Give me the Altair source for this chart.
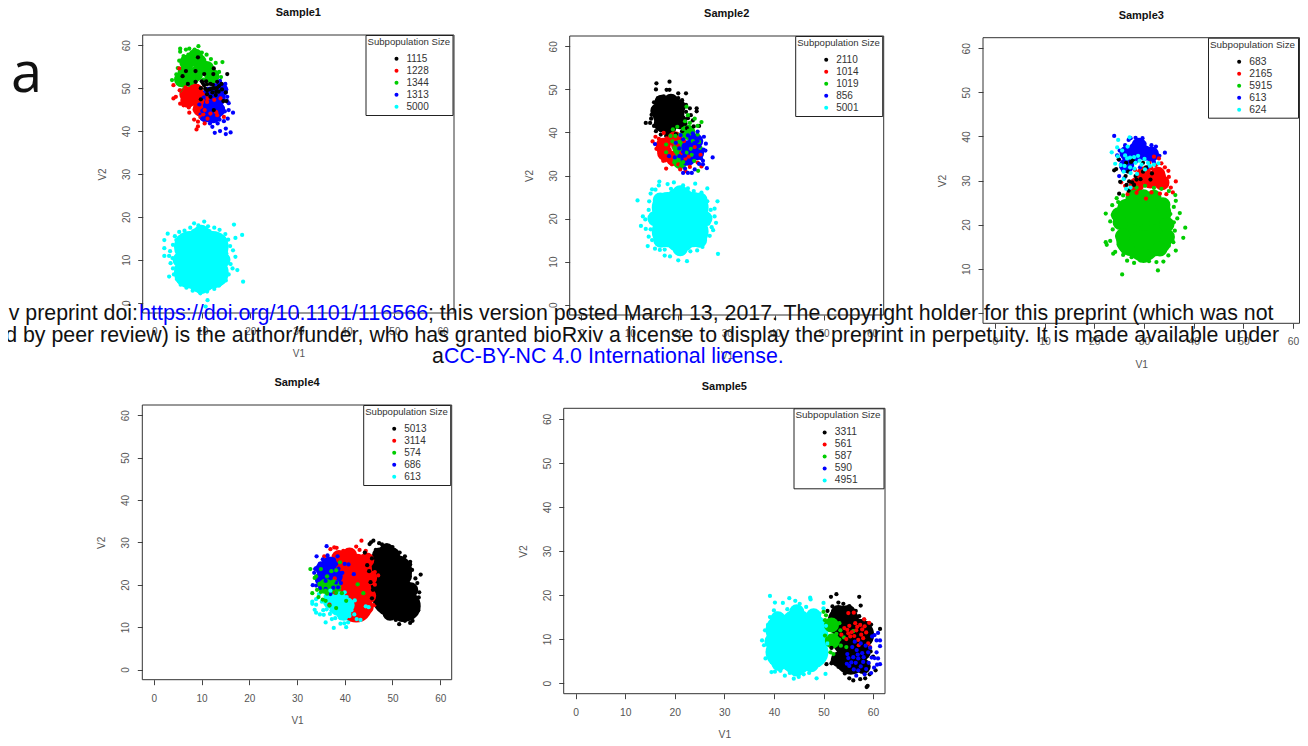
import altair as alt
import pandas as pd

FONT = "Liberation Sans"
COLORS = ["#000000", "#ff0000", "#00cd00", "#0000ff", "#00ffff"]
TICKS = [0, 10, 20, 30, 40, 50, 60]
DOMAIN = [-2.4, 62.4]
DOMAIN_S3_X = [-2.4, 61.29]
PAGE_W, PAGE_H = 1292, 735

# ---------- Sample1 ----------
s1_labels = ["1115", "1228", "1344", "1313", "5000"]
s1_big = [(9.8, 10, "5000"), (7.4, 7, "5000"), (12.2, 7, "5000"), (7.4, 13, "5000"), (12.2, 13, "5000"), (9.8, 14, "5000"), (9.8, 6, "5000")]
s1_small = [(5.4, 10, "5000"), (14.3, 10, "5000"), (5.9, 14.2, "5000"), (13.7, 14.2, "5000"), (6, 5.8, "5000"), (13.6, 5.8, "5000"), (9.8, 16.4, "5000"), (9.8, 3.8, "5000"),
            (6.4, 53.5, "1344"), (8.6, 53.3, "1344"), (10.9, 54.6, "1344"), (6.8, 56, "1344"), (9.3, 56.2, "1344"), (8.6, 57.4, "1344"), (12, 52.8, "1344"), (5.7, 52, "1344"), (7.6, 52, "1344"),
            (6.8, 48.6, "1228"), (8.6, 47.6, "1228"), (7, 47.2, "1228"), (8.6, 49.3, "1228"), (10, 47.2, "1228"), (9.6, 45.2, "1228"),
            (11.7, 46, "1313"), (13.3, 47.6, "1313"), (13.2, 45, "1313"), (12.3, 43.6, "1313"), (13.8, 49.6, "1313"), (11.6, 48.6, "1313"), (10.8, 43.8, "1313")]
s1_green = [(5.4, 59.2), (5.4, 58.5), (6.6, 59), (7.3, 59.2), (9.2, 59.8), (14.2, 56.1), (12.8, 55.9), (3.7, 51.9), (5.4, 49.5), (13.5, 53.8), (8.4, 59), (9.9, 58.3), (10.9, 57.8), (11.8, 56.8), (12.2, 54.6), (13, 53), (4.6, 53.2), (4.9, 54.7), (5.2, 56.4), (6.1, 57.5), (7.1, 57.8), (4.7, 52), (5.9, 51.2), (7.9, 51.3), (10.2, 52), (12.3, 52.1), (13.9, 52.6), (6.3, 50.3)]
s1_red = [(4, 50.7), (4, 47.6), (4.5, 48), (5.2, 54.6), (7.3, 44.3), (8.3, 42.7), (9.1, 42.2), (9.1, 41.1), (8.8, 40.4), (5.4, 46.4), (6.1, 46), (6.5, 50.2), (5.3, 49.5), (9.9, 46.7), (9.6, 44.7), (8.4, 45), (10.2, 43.9), (9.6, 43.3), (7.2, 45.5), (10.5, 48.2), (9.7, 50.1)]
s1_blue = [(12.6, 39.6), (13.7, 40), (14.9, 40.6), (14.9, 39.3), (15.9, 39.7), (16.4, 44.3), (15.5, 44.9), (15.5, 46.5), (15.2, 48), (15, 49.7), (14.8, 51), (13.7, 51.7), (15.3, 42.9), (14.5, 42.3), (13.2, 41.8), (12.1, 41), (11.6, 41.8), (10.9, 43.2), (10, 44.7), (9.4, 46.2), (10.3, 47.9), (11, 49), (12.6, 50.7), (14.7, 44.6), (15.2, 47), (10, 42.9), (13.6, 42.7)]
s1_red2 = [(10.5, 41.8), (11.1, 42.9), (14.5, 43.3), (13.8, 47.6), (11, 46.8), (10.5, 44.9), (11.7, 44.1), (12.5, 47.3), (13.1, 43.7), (10, 48.7), (11.1, 47.6), (12.9, 44.4)]
s1_black = [(12.4, 54.6), (15.2, 53.3), (8.6, 54), (6.6, 54), (10.4, 53.3), (12.3, 53.3), (7, 51), (8.6, 51.5), (10.4, 50.7), (11.7, 51), (13.1, 51.5), (9.7, 50), (11, 49.5), (12.4, 50), (13.5, 50.5), (11.7, 48), (12.8, 48.4), (9.7, 47.4), (14.9, 49), (14.4, 47), (15, 47), (12.4, 44.9), (11, 50.9), (10.1, 51.2), (12.1, 49), (13.4, 49.2), (9.1, 57.2), (5.9, 52.8), (11.5, 49.7), (10.6, 49.9), (12.2, 50.8), (13, 50), (11.9, 49.9), (10.8, 51.6), (14, 51), (14.1, 49.7), (12.9, 49.2), (11, 48.6), (9.9, 51.6)]
s1_cyan = [(2.1, 14.6), (2.8, 16.1), (2.1, 12.7), (2.1, 10.9), (3.1, 10.9), (16.6, 18.2), (18.3, 15.8), (16.9, 15.1), (16.9, 10.7), (17.3, 7.6), (18.5, 4.9), (3.1, 6.1), (10.4, 18.9), (8.3, 18.5), (11.1, 0.6), (10.7, -0.9), (4.3, 15.5), (5.2, 16.5), (6.3, 16.8), (7.5, 17.5), (9.2, 18), (11.2, 17.8), (12.5, 17.5), (13.6, 17), (14.8, 16), (15.4, 14.7), (15.8, 13.2), (16.4, 12.2), (15.9, 9), (16.3, 8), (15.5, 6.6), (14.9, 5.2), (13.5, 4), (12.5, 3.2), (11, 2.6), (9.6, 2.2), (8, 2.8), (6.7, 3.5), (5.5, 4.2), (4.7, 5.5), (4.1, 6.6), (3.9, 8), (3.4, 9.2), (3.8, 10.4), (3.3, 12), (3.9, 13.5), (4.8, 12.6), (4.6, 8.2), (15, 11.5), (14.8, 8.1), (4.6, 14.6), (14.7, 12.8)]
s1_dots = [("1344", s1_green), ("1228", s1_red), ("1313", s1_blue), ("1228", s1_red2), ("1115", s1_black), ("5000", s1_cyan)]

# ---------- Sample2 ----------
s2_labels = ["2110", "1014", "1019", "856", "5001"]
s2_big = [(18, 44.3, "2110"), (20.4, 19.8, "5001"), (17.8, 22.5, "5001"), (23, 22.5, "5001"), (17.8, 17, "5001"), (23, 17, "5001"), (20.4, 23.6, "5001"), (20.4, 15.8, "5001")]
s2_small = [(15.8, 45, "2110"), (16.5, 42, "2110"), (20, 46, "2110"), (20.3, 42.5, "2110"), (16.6, 47, "2110"), (18.5, 47.2, "2110"), (18, 41, "2110"),
            (15.2, 20, "5001"), (25.5, 20, "5001"), (16.4, 15, "5001"), (24.4, 15, "5001"), (16.3, 24.3, "5001"), (24.5, 24.3, "5001"), (20.4, 13, "5001"), (20.4, 26, "5001"),
            (16.9, 37, "1014"), (17.2, 35.2, "1014"), (19.3, 38.5, "1014"), (19, 34, "1014"),
            (20.3, 36.5, "1019"), (22, 40, "1019"), (20.4, 33.3, "1019"),
            (22.2, 36.5, "856"), (23.8, 35.3, "856"), (22, 34, "856"), (23.6, 38, "856")]
s2_cyan = [(11.6, 24.2), (12.7, 20.5), (12.3, 18.3), (14.6, 26.8), (16.1, 28.6), (17.8, 28), (19.1, 28.4), (21, 27.7), (23.5, 28.1), (26, 27), (28.1, 24), (27.5, 22.3), (27.5, 20.5), (27.8, 19), (27.2, 17.3), (26.5, 16), (25.5, 15.5), (25, 13.4), (23.9, 12.6), (22.5, 12.4), (28.2, 11.8), (21.8, 10.1), (20, 10.3), (18.3, 11.2), (17.2, 11.4), (16.2, 12.7), (15.2, 13), (13.7, 13.6), (13.9, 15.8), (13.3, 17.6), (13.2, 19.8), (13.9, 22), (14, 24), (14.3, 25.8), (22, 27), (18.5, 26.9), (15.3, 26.7), (16, 27.7), (26, 24), (26.9, 18), (24.8, 26), (26.7, 22), (14.6, 15), (14.3, 17.5), (26.2, 18.8), (14.5, 21), (23.2, 26.4), (17.2, 12.8), (22, 13.2), (15.6, 14.2), (25.3, 23.6)]
s2_black = [(15.5, 51.4), (18.2, 51.8), (15.4, 50), (17.6, 49.9), (18.2, 49.9), (20, 49.1), (21.6, 49.1), (13.3, 42.2), (14.2, 42.2), (14.5, 44.1), (23.8, 45.6), (23.8, 44.9), (24.3, 41.5), (15.8, 48), (17, 48.4), (18.6, 48.4), (20, 48), (20.8, 47.5), (21.6, 46.4), (22.4, 45.6), (22.6, 44), (23, 42.8), (23.2, 41.4), (21.8, 41), (15, 47), (14.9, 45.6), (14.4, 43.2), (15, 41.5), (15.4, 40.3), (16.4, 39.5), (17.5, 39.2), (19.5, 39.6), (20.8, 40.3), (21.5, 42), (22, 43.3), (15.5, 43), (21.6, 44.8), (16.4, 40.5)]
s2_red = [(17.5, 31.6), (14.7, 37.9), (16.9, 33.4), (17.3, 33.5), (15.3, 39), (15.5, 36.2), (16, 35.8), (17.4, 35.2), (18.7, 34.4), (18.7, 32.6), (20, 32.6), (20.4, 31.4), (21.5, 31), (22.4, 32), (24.6, 34.8), (24.8, 32.1), (19, 36.7), (20.6, 35.2), (17, 39.9), (19, 39.2), (16, 38.5), (18.1, 37.8), (22.2, 34.4), (23.4, 36.6), (21.2, 38), (18.2, 36), (24, 33), (19.9, 37.1), (17.6, 38.6), (21.5, 33.9)]
s2_green = [(24.8, 42.4), (21.7, 46), (22, 44), (21.4, 42.6), (22.4, 42.2), (19.8, 41.3), (18.9, 40.7), (20.4, 39.5), (21.9, 39.7), (24, 41.5), (24, 39.5), (24.3, 37.8), (24.6, 36.4), (17.5, 37.2), (17.5, 35.4), (19.2, 36.5), (19.7, 35.2), (18.8, 37.9), (22.6, 36.2), (21, 33.1), (20.6, 32.4), (23.3, 33.4), (24.1, 31.1), (19.2, 33), (22.2, 40.4), (23, 38), (20.3, 37.8), (21.7, 35.3), (22.8, 34.8), (18.4, 39.2), (19.4, 39.2), (21, 40.8), (23.4, 43.2)]
s2_blue = [(27.1, 34.2), (15.2, 37.3), (25.9, 31.7), (21, 30.6), (22.8, 30.6), (22, 30.6), (24, 40.2), (25.2, 36), (25.6, 35.8), (25.7, 37.4), (25.3, 39), (24.7, 34), (25.1, 33.4), (25.1, 32.6), (24.3, 32.7), (23.4, 31.4), (21.4, 31.6), (20.2, 34.5), (19.5, 37.6), (21, 38.4), (22, 39.3), (23, 39.8), (20.5, 39.4), (20.2, 36.3), (21, 35.5), (21.8, 36.6), (23.3, 37.5), (24, 38), (23.2, 35.6), (22.2, 33.3), (23.5, 34.3), (21.3, 34.6), (22.5, 38.8), (24.3, 36.8), (18.1, 34.5), (19.3, 34.2)]
s2_dots = [("2110", s2_black), ("5001", s2_cyan), ("1014", s2_red), ("1019", s2_green), ("856", s2_blue)]

# ---------- Sample3 ----------
s3_labels = ["683", "2165", "5915", "613", "624"]
s3_big = [(29.9, 19.4, "5915"), (27.6, 22.6, "5915"), (32.3, 22.6, "5915"), (27.6, 16.4, "5915"), (32.3, 16.4, "5915"), (29.9, 24, "5915"), (29.9, 15.2, "5915")]
s3_small = [(32.8, 31.4, "2165"), (31.3, 29.9, "2165"), (33.6, 29.5, "2165"), (28.5, 29, "2165"), (30, 31.5, "2165"),
            (28.4, 37, "613"), (30.2, 36.2, "613"), (28, 35.5, "613"), (26.6, 36.2, "613"), (29, 38, "613"), (26.5, 33.4, "613"), (31.5, 36, "613"),
            (25.2, 20.5, "5915"), (34.6, 20, "5915"), (26.2, 24, "5915"), (33.8, 24.5, "5915"), (26.6, 14.8, "5915"), (33.2, 14.5, "5915"), (29.9, 13, "5915"), (29.9, 26.3, "5915"), (25.7, 17.4, "5915"), (34.7, 17.2, "5915"), (32, 26.2, "5915"), (27.8, 26.2, "5915"), (24.9, 22.2, "5915")]
s3_blue = [(24, 40.1), (34.2, 36.3), (26.9, 39.2), (27.3, 39.6), (28.3, 39.7), (29.7, 39.6), (30.1, 38.4), (31.5, 38), (32.4, 37.7), (33.1, 35.6), (32, 34.2), (30.7, 33), (26.2, 38), (25.1, 36.8), (24.6, 35.7), (25, 34.7), (25.5, 33), (25, 31), (26, 30.5), (27.4, 33.4), (29.2, 33), (28.5, 38.9), (26.3, 36.2), (29.5, 39), (25.8, 32.3)]
s3_red = [(36.4, 29.8), (32, 35.4), (33, 35), (33.5, 33.9), (34.2, 33), (34.9, 32.2), (35, 30.8), (34.6, 29.6), (35.4, 28.4), (35.8, 27.3), (34.5, 26.9), (33.2, 27), (31.5, 27.3), (30.4, 25.9), (28.5, 27.2), (26.7, 26.9), (27.4, 28.2), (26.2, 28.8), (25.4, 29.6), (28.2, 32.4), (29.8, 31.7), (30.2, 30.1), (29, 30.6), (27.8, 29.7), (31.5, 32.8), (29.3, 28.3), (30.8, 28.8), (32.4, 33.5), (34, 31), (31.1, 34)]
s3_green = [(25.6, 8.7), (32.8, 9.6), (22.3, 22.5), (22.3, 16), (23.2, 16.3), (24.2, 13.8), (38.3, 19.3), (37.9, 17), (36.4, 14.1), (37.2, 22.6), (28, 11.3), (33.9, 11.6), (34.9, 13), (22.5, 15.4), (23.8, 13.4), (25.8, 13.1), (26.6, 11.8), (27.5, 12.6), (29.2, 11.9), (31, 11.7), (32.5, 11.5), (35, 15.2), (35.9, 16), (36.2, 18.6), (36, 20.5), (36.7, 21.4), (36, 24), (36.4, 25.4), (36.3, 26.7), (35, 27.6), (33.5, 28.1), (32, 28.3), (30.2, 28.8), (28.5, 28.4), (27, 27.7), (25.8, 26.6), (24.8, 25.1), (23.6, 24.4), (23.7, 22.2), (23.2, 20.7), (23.7, 18.9), (24.6, 17.4), (24.9, 15.4), (24.5, 26), (35.3, 22.4), (24.3, 22.6)]
s3_black = [(24, 32.3), (24.4, 32.6), (24.9, 34.8), (25, 27), (25.2, 29.7), (26.3, 31), (26.8, 32), (26.4, 34), (27.4, 34.2), (27.7, 34.6), (26.5, 29), (26.9, 27.7), (27.6, 29.6), (28.3, 31), (28, 29), (29.3, 30.3), (29.8, 32), (29.8, 34), (30.4, 33), (31.3, 30.2), (31.6, 31.6), (27, 29.8), (28.5, 30.2)]
s3_cyan = [(23.5, 36.4), (24.8, 39.2), (24.7, 35.5), (24.2, 33.8), (24.6, 37.5), (25.3, 33.5), (26.7, 37.7), (26.6, 35), (27.2, 35.2), (28, 35.3), (26.1, 33.3), (25.9, 32), (27.3, 31.7), (28.1, 32.7), (28.3, 34), (29.1, 34.5), (30.1, 34.9), (30.8, 34), (32, 33.6), (27.2, 33), (25.9, 30.3), (26.4, 28.1), (27.3, 28.4), (28.6, 31.5), (27.1, 39.8), (32.9, 33.9), (29.5, 33.6), (31.2, 33.3), (30.2, 32.5), (26.2, 35.7), (25.6, 36.8), (28.8, 35.6)]
s3_dots = [("613", s3_blue), ("2165", s3_red), ("5915", s3_green), ("683", s3_black), ("624", s3_cyan)]

# ---------- Sample4 ----------
s4_labels = ["5013", "3114", "574", "686", "613"]
s4_big = [(47.9, 24.2, "5013"), (49.5, 21.2, "5013"), (51.3, 18, "5013"), (52.6, 15, "5013"), (49.2, 16.5, "5013"), (47.5, 20.8, "5013"), (50.8, 23.3, "5013"),
          (42.4, 23.6, "3114"), (42.6, 18.6, "3114"), (42.4, 14.8, "3114"), (39.5, 23.7, "3114")]
s4_small = [(50.7, 25.2, "5013"), (52.5, 22, "5013"), (53.8, 18.8, "5013"), (54, 15.5, "5013"), (47, 20, "5013"), (47.3, 27, "5013"), (50, 27, "5013"), (47.5, 17, "5013"), (49.5, 13.3, "5013"), (52, 13, "5013"), (48.8, 28, "5013"),
            (45.2, 21.6, "3114"), (44.6, 25.8, "3114"), (41, 27, "3114"), (38.8, 26.4, "3114"), (45, 17.4, "3114"), (44.5, 14.8, "3114"), (40, 19.8, "3114"), (43, 13.4, "3114"), (38.8, 21, "3114"),
            (36.6, 22.6, "686"), (35.5, 23.8, "686"), (38, 22, "686"), (36.8, 24.9, "686"), (35.3, 21.4, "686"),
            (36, 19.6, "574"), (37.7, 19.4, "574"),
            (38.5, 14.5, "613"), (37, 16.1, "613"), (40.5, 15.2, "613"), (39.8, 13.3, "613"), (38.8, 16.6, "613")]
s4_red = [(43.5, 30.4), (42.4, 29), (43.1, 28.2), (44.4, 28), (37.8, 28.8), (38.3, 28.7), (37, 28.4), (45.2, 25), (46.3, 23), (47, 22.2), (46.3, 20), (46, 17.4), (46.2, 15.2), (45, 14), (43.5, 12.8), (43, 13.1), (41, 11.8), (41.4, 12.4), (35.7, 26.7), (39.7, 28), (40.8, 27.9), (36.8, 15.3), (38, 18.1), (37.9, 21.5), (44.6, 26.6)]
s4_blue = [(36.2, 29.1), (34.1, 26.7), (38.5, 26.7), (37.7, 26), (36.4, 26.9), (35.4, 26), (34.8, 25), (34, 23.9), (33.8, 23.7), (33.6, 22.8), (33.3, 19.9), (34, 19.8), (34.3, 21.2), (34.8, 19.2), (36, 19), (37.6, 19.3), (38.6, 19.4), (39.2, 20.4), (39.5, 22.8), (38.2, 24.9), (40, 24.9), (34.5, 23.1), (36, 20.9), (35, 21.8), (38.2, 20.5), (38.7, 23.8), (37, 17.8), (37.2, 25.3), (40.8, 24.8), (41.9, 22.5)]
s4_green = [(32.8, 23.7), (34, 22), (33.7, 21.6), (35, 23.7), (34.7, 20.2), (35.5, 20), (33.2, 18), (34.2, 18.8), (35, 18.3), (36, 18.6), (36.3, 17.9), (34.5, 17.1), (35.4, 16.5), (36, 16.2), (36.8, 15.1), (38.2, 14.5), (37.6, 20.8), (38.2, 23.4), (39, 25.3), (38.2, 18.1), (39.4, 18), (40.3, 16.2), (42.7, 20.1), (43.9, 18), (37.2, 23.2), (36.3, 22), (37, 20.2)]
s4_cyan = [(33.2, 16), (33.2, 15.5), (33.7, 14.1), (34, 13.4), (34.8, 13), (35.6, 12.9), (36, 11.1), (37.3, 11.9), (37.7, 9.8), (39.1, 10.8), (39.9, 10.9), (40.3, 10), (40.7, 11.1), (42.5, 11.9), (43.3, 11.7), (42, 13), (41.4, 14), (41, 16), (42.1, 16.3), (44.4, 14.9), (45, 14.7), (36.2, 14.2), (35.2, 16), (34, 15.3), (35.5, 14), (38, 12.1), (36.9, 13.1), (39, 17.6), (40, 18.2), (37, 18.6), (36, 17.3), (34.6, 17.8), (39.1, 12.1), (37.2, 13.9), (41, 12.6), (40.4, 17.1), (34, 16.6)]
s4_black = [(46, 30.4), (45.5, 30), (45.2, 29.6), (44.2, 27.6), (47.2, 29.8), (47.8, 29.5), (48.8, 29.3), (50, 28.9), (50.5, 28), (51.5, 27.6), (52.6, 26.7), (53.7, 25.4), (53.7, 24.8), (54.1, 23.5), (55.9, 22.4), (54.8, 21.5), (55.2, 20.4), (55.6, 18.2), (55.5, 17), (55.2, 15.4), (55.4, 14), (54.7, 13), (54.2, 11.5), (53.7, 11), (52.6, 11.5), (51.4, 10.7), (50.7, 11.7), (49.6, 12.3), (48.8, 13.1), (47.9, 13.5), (46.7, 15.7), (45.7, 16.8), (45.9, 18.8), (45.4, 20.6), (45.1, 23.2), (44.7, 24.6), (45.7, 26.2), (46.5, 28.2)]
s4_dots = [("3114", s4_red), ("686", s4_blue), ("613", s4_cyan), ("574", s4_green), ("5013", s4_black)]

# ---------- Sample5 ----------
s5_labels = ["3311", "561", "587", "590", "4951"]
s5_big = [(54, 14, "3311"), (55, 9.6, "3311"), (55.5, 5.5, "3311"), (57, 11, "3311"),
          (44.6, 9.4, "4951"), (41.5, 7, "4951"), (47.8, 7, "4951"), (41.5, 12, "4951"), (47.8, 12, "4951"), (44.6, 13.2, "4951"), (44.6, 5.5, "4951")]
s5_small = [(53, 16, "3311"), (55, 16, "3311"), (53, 5.4, "3311"), (58, 7, "3311"), (58, 3.8, "3311"),
            (39.6, 9.5, "4951"), (49.7, 9.5, "4951"), (40.8, 14.6, "4951"), (48, 15.3, "4951"), (41, 4.5, "4951"), (47.5, 4.2, "4951"), (44.6, 3.2, "4951"), (44.6, 16.2, "4951"),
            (51.6, 13.2, "587"), (51.8, 9.6, "587")]
s5_black = [(52.6, 20.2), (51.5, 19.6), (57.2, 19.6), (57.5, 17.6), (51.8, 17.4), (53, 18.3), (54, 18), (55.2, 17.5), (56.5, 16.4), (57.2, 15.2), (58.2, 14.4), (59, 13.6), (59.6, 13.3), (58.6, 12), (61.4, 12.3), (59.6, 10.1), (59.5, 7.2), (60, 6), (59, 4.5), (59.3, 2), (58.4, 1.1), (58.9, -0.6), (58.7, -0.9), (57.4, 0.9), (56, 0.6), (55.2, 1.1), (54.3, 2.2), (53, 3.7), (51.6, 4.5), (50.6, 4.3), (51.8, 4.9), (52.6, 5.2), (51.6, 8), (50.8, 16.4), (60.5, 2.9)]
s5_cyan = [(39.2, 19.8), (40.2, 18.3), (41.8, 18.2), (43.1, 19.3), (44.3, 18.7), (45.2, 18), (47.3, 19.4), (47.4, 19), (50, 18.2), (50, 17), (49.2, 15.8), (40, 16.5), (40.5, 15.8), (39.2, 15), (38.8, 13.2), (38.2, 12), (37.6, 9.7), (38, 8.6), (38.8, 7.2), (38.3, 5.6), (39.6, 4.7), (39.5, 2.5), (40.2, 2.6), (41.3, 2.8), (42.2, 1.7), (43.2, 2.3), (44, 1), (45, 1.4), (46, 2), (47.1, 2.3), (48.6, 1.1), (50.4, 2.1), (48, 3.6), (49, 4.1), (49.6, 6), (50.3, 7.3), (50.8, 9), (50.6, 11), (50.5, 13), (49.7, 13.8), (39.5, 11), (40, 6.5), (42.5, 3.4), (46.5, 17.3), (42.7, 16.8)]
s5_green = [(50, 16.2), (50.5, 15.4), (50.3, 14.3), (51, 13.8), (52.1, 14), (52, 12.8), (53.2, 13.6), (51.7, 12), (52.6, 11.2), (53.4, 12), (50.3, 10.8), (51.2, 10.5), (52, 9.7), (53.2, 9.9), (54.1, 10.4), (52.6, 8.8), (51.6, 9), (53.5, 8.5), (54.6, 8.2), (51.4, 7), (52, 6.6), (50.8, 10), (56, 11.8)]
s5_red = [(55, 15.9), (56.1, 16), (58.2, 14.5), (59.2, 13.7), (56.4, 13.6), (57.4, 13.2), (55.2, 13), (54.2, 12.5), (53.6, 11), (55, 11.3), (55.7, 11.6), (56.6, 12), (57.8, 12.2), (58.6, 11.5), (56.2, 10.7), (54.6, 10), (57, 9.8), (58, 10.2), (59, 9), (59.4, 8.2), (57.1, 8.6), (58.3, 12.9), (55.4, 10.6), (57.6, 11), (56.8, 12.8), (54.8, 12.1)]
s5_blue = [(61, 11.4), (61.4, 9.7), (61.4, 8.4), (60.7, 9.7), (59.8, 10.6), (60.3, 10.9), (60.7, 7), (60.3, 5.7), (61, 5.6), (61.4, 4.3), (60.8, 4.2), (60.2, 3.5), (59.6, 2.3), (58.3, 2), (56.6, 1.7), (57, 2.9), (55.2, 3.9), (54.7, 4.4), (55, 5.7), (54.8, 6.6), (56, 5.9), (57, 5.6), (58, 4.8), (59.1, 4.6), (59, 7), (57.8, 6.8), (56.7, 7.5), (55.8, 8.2), (56.3, 9.4), (57.5, 9), (58.5, 8.5), (55.6, 4.7), (57.5, 3.8), (59.7, 5.8), (56.1, 3.1), (56.5, 4.6), (58.6, 3.2), (59.4, 8), (58.1, 5.9), (56.9, 6.5)]
s5_dots = [("3311", s5_black), ("4951", s5_cyan), ("587", s5_green), ("561", s5_red), ("590", s5_blue)]

# ---------- overlay text ----------
letter = ["a"]
preprint_1a = ["iv preprint doi: "]
preprint_1b = ["https://doi.org/10.1101/116566"]
preprint_1c = ["; this version posted March 13, 2017. The copyright holder for this preprint (which was not"]
preprint_2 = ["ed by peer review) is the author/funder, who has granted bioRxiv a license to display the preprint in perpetuity. It is made available under"]
preprint_3a = ["a"]
preprint_3b = ["CC-BY-NC 4.0 International license."]


def frame_big(rows):
    return pd.DataFrame(rows, columns=["V1", "V2", "sub"])


def frame_dots(groups):
    rows = []
    for label, pts in groups:
        rows += [(x, y, label) for x, y in pts]
    return pd.DataFrame(rows, columns=["V1", "V2", "sub"])


def panel(title, labels, big, small, dots, box, font=10.0, legend_w=88.5, x_domain=DOMAIN):
    left, right, top, bottom = box
    xs = alt.Scale(domain=x_domain, range=[left, right], nice=False, zero=False)
    ys = alt.Scale(domain=DOMAIN, range=[bottom, top], nice=False, zero=False)
    x_axis = alt.Axis(orient="bottom", offset=bottom - PAGE_H, values=TICKS, grid=False, domain=False,
                      tickColor="#444444", tickSize=5, tickWidth=1,
                      labelColor="#555555", labelFont=FONT, labelFontSize=font, labelPadding=8.5, labelFlush=False,
                      titleColor="#555555", titleFont=FONT, titleFontSize=font, titleFontWeight="normal", titlePadding=12)
    y_axis = alt.Axis(orient="left", offset=-left, values=TICKS, grid=False, domain=False,
                      tickColor="#444444", tickSize=5, tickWidth=1,
                      labelColor="#555555", labelFont=FONT, labelFontSize=font, labelAngle=270, labelAlign="center",
                      labelBaseline="bottom", labelPadding=6.5, labelFlush=False,
                      titleColor="#555555", titleFont=FONT, titleFontSize=font, titleFontWeight="normal", titlePadding=14)
    x = alt.X("V1:Q", title="V1", scale=xs, axis=x_axis)
    y = alt.Y("V2:Q", title="V2", scale=ys, axis=y_axis)
    color = alt.Color("sub:N", sort=None, scale=alt.Scale(domain=labels, range=COLORS),
                      legend=alt.Legend(title="Subpopulation Size", orient="none", legendX=right - legend_w, legendY=top, padding=2,
                                        strokeColor="#222222", fillColor="white", symbolType="circle", symbolSize=16,
                                        symbolStrokeWidth=0, symbolOffset=24, labelOffset=5, clipHeight=11.5, rowPadding=0,
                                        labelFont=FONT, labelFontSize=font, labelColor="#333333",
                                        titleFont=FONT, titleFontSize=font * 0.96, titleFontWeight="normal", titleColor="#333333",
                                        titlePadding=6.5, titleLimit=120))
    enc = dict(x=x, y=y, color=color)
    bounds = pd.DataFrame({"x0": [x_domain[0]], "x1": [x_domain[1]], "y0": [DOMAIN[0]], "y1": [DOMAIN[1]]})
    outline = alt.Chart(bounds).mark_rect(fill="transparent", stroke="#333333", strokeWidth=1).encode(
        x=alt.X("x0:Q", scale=xs, title="V1", axis=x_axis), x2="x1:Q",
        y=alt.Y("y0:Q", scale=ys, title="V2", axis=y_axis), y2="y1:Q")
    a = alt.Chart(frame_big(big)).mark_circle(size=1000, opacity=1).encode(**enc)
    b = alt.Chart(frame_big(small)).mark_circle(size=230, opacity=1).encode(**enc)
    c = alt.Chart(frame_dots(dots)).mark_circle(size=18, opacity=1).encode(**enc)
    head = alt.Chart(pd.DataFrame({"t": [title]})).mark_text(
        font=FONT, fontSize=11, fontWeight="bold", color="#111111", align="center", baseline="middle"
    ).encode(x=alt.value((left + right) / 2), y=alt.value(top - 21.8), text="t:N")
    return alt.layer(outline, a, b, c, head)


def note(text, px, py, color, align, size=21.35, font=FONT):
    return alt.Chart(pd.DataFrame({"t": text})).mark_text(
        font=font, fontSize=size, color=color, align=align, baseline="alphabetic", clip=False
    ).encode(x=alt.value(px - 8), y=alt.value(py - 8), text="t:N")


p1 = panel("Sample1", s1_labels, s1_big, s1_small, s1_dots, (134.7, 446, 27, 305))
p2 = panel("Sample2", s2_labels, s2_big, s2_small, s2_dots, (561.7, 875.7, 28, 307))
p3 = panel("Sample3", s3_labels, s3_big, s3_small, s3_dots, (975, 1291.5, 29.7, 315.3), 10.3, 91.5, DOMAIN_S3_X)
p4 = panel("Sample4", s4_labels, s4_big, s4_small, s4_dots, (134.3, 443.7, 397, 671.7))
p5 = panel("Sample5", s5_labels, s5_big, s5_small, s5_dots, (555.7, 877, 400.3, 685.7), 10.3, 91.5)

overlay = [
    note(letter, 11, 92, "#111111", "left", 56, "Open Sans"),
    note(preprint_1a, 138, 320, "#111111", "right"),
    note(preprint_1b, 139, 320, "#0000ff", "left", 21.55),
    note(preprint_1c, 428, 320, "#111111", "left"),
    note(preprint_2, 1279, 342, "#111111", "right"),
    note(preprint_3a, 432, 363, "#111111", "left"),
    note(preprint_3b, 444, 363, "#0000ff", "left"),
]

chart = alt.layer(p1, p2, p3, p4, p5, *overlay).resolve_scale(
    x="independent", y="independent", color="independent"
).properties(
    width=PAGE_W, height=PAGE_H,
    autosize=alt.AutoSizeParams(type="none"),
    padding=0,
    background="white",
).configure_view(stroke="transparent")

chart.save("out.html", embed_options={"renderer": "svg", "actions": False})
